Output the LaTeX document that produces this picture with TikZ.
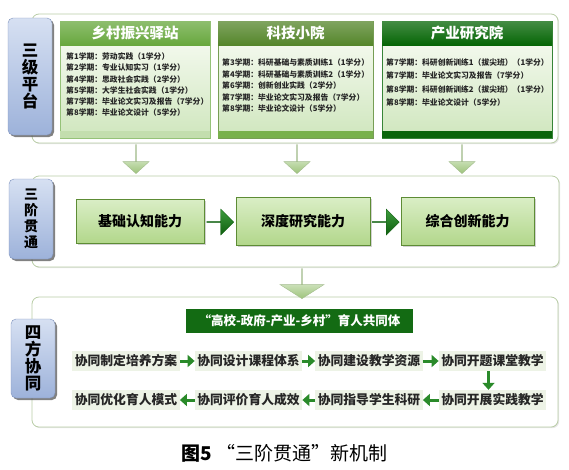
\documentclass[tikz,border=0pt]{standalone}
\usepackage{fontspec}
\setmainfont{Noto Sans CJK SC}
\usepackage{tikz}
\usetikzlibrary{shapes.arrows, positioning, arrows.meta, calc, shadows}

\definecolor{secLine}{HTML}{B9CDA6}
\definecolor{tagTop}{HTML}{D6E0F2}
\definecolor{tagBot}{HTML}{9DB2DA}
\definecolor{tagLine}{HTML}{7F93BD}
\definecolor{hVil}{HTML}{68A83E}
\definecolor{hSci}{HTML}{55862B}
\definecolor{hInd}{HTML}{066606}
\definecolor{sVil}{HTML}{C3DEAE}
\definecolor{sSci}{HTML}{78B14C}
\definecolor{sInd}{HTML}{0A650A}
\definecolor{panelTop}{HTML}{FBFDF8}
\definecolor{panelBot}{HTML}{CFE6BD}
\definecolor{abTop}{HTML}{DAEEC6}
\definecolor{abBot}{HTML}{B2D78B}
\definecolor{abLine}{HTML}{5D8C35}
\definecolor{pushTop}{HTML}{3E9C3E}
\definecolor{pushBot}{HTML}{0F5F0F}
\definecolor{arrLine}{HTML}{A3BC8E}
\definecolor{arrBot}{HTML}{9DC47A}
\definecolor{itemBg}{HTML}{EDF3E6}
\definecolor{flowGreen}{HTML}{2A8A2A}
\definecolor{barGreen}{HTML}{136B13}

\begin{document}
\begin{tikzpicture}[
    x=1pt, y=-1pt,
    section/.style={draw=secLine, line width=0.8pt, rounded corners=7pt, fill=white, inner sep=0pt,
        drop shadow={shadow xshift=1.2pt, shadow yshift=-1.2pt, opacity=0.2}},
    tag/.style={draw=tagLine, rounded corners=5pt, top color=tagTop, bottom color=tagBot, align=center,
        minimum width=44pt, inner sep=0pt,
        drop shadow={shadow xshift=2pt, shadow yshift=-2pt, fill=black!70, opacity=0.7}},
    panel/.style={draw=#1, top color=panelTop, bottom color=panelBot, inner sep=0pt, minimum height=117pt},
    head/.style={top color=#1!75!white, bottom color=#1, text=white, anchor=north, inner sep=0pt,
        minimum height=24pt, font=\fontsize{14.5}{16}\selectfont\bfseries},
    strip/.style={fill=#1, inner sep=0pt, minimum height=7pt, anchor=south},
    term/.style={anchor=north west, align=left, inner sep=0pt, text=black!85,
        font=\fontsize{7.8}{#1}\selectfont\bfseries},
    ability/.style={draw=abLine, top color=abTop, bottom color=abBot, inner sep=0pt,
        font=\fontsize{14}{16}\selectfont\bfseries,
        drop shadow={shadow xshift=1.5pt, shadow yshift=-1.5pt, opacity=0.35}},
    push/.style={single arrow, draw=pushBot, top color=pushTop, bottom color=pushBot, inner sep=0pt,
        minimum width=26pt, minimum height=27pt, single arrow head extend=6pt, single arrow tip angle=90},
    down/.style={single arrow, shape border rotate=270, draw=arrLine, top color=white, bottom color=arrBot,
        inner sep=0pt, anchor=tail, minimum width=26pt, minimum height=29pt,
        single arrow head extend=6.5pt, single arrow tip angle=95},
    item/.style={fill=itemBg, text=black!85, inner xsep=2.5pt, inner ysep=0pt, minimum height=20pt,
        font=\fontsize{12.8}{14}\selectfont\bfseries},
    flow/.style={draw=flowGreen, line width=3pt, -{Triangle[length=7pt, width=12pt]}}
]
    \useasboundingbox (0,0) rectangle (569,469);

    % Section frames
    \node[section, minimum width=526pt, minimum height=129pt] (secA) at (295,78.5) {};
    \node[section, minimum width=527pt, minimum height=91pt] (secB) at (295.5,221.5) {};
    \node[section, minimum width=526pt, minimum height=130pt] (secC) at (295,362) {};

    % Side tags
    \node[tag, minimum height=117pt, font=\fontsize{16.5}{17}\selectfont\bfseries] (tagA) at (30,76.5) {三\\级\\平\\台};
    \node[tag, minimum height=80pt, font=\fontsize{14}{16}\selectfont\bfseries] (tagB) at (31,219) {三\\阶\\贯\\通};
    \node[tag, minimum height=79pt, font=\fontsize{16.5}{17}\selectfont\bfseries] (tagC) at (33,358.5) {四\\方\\协\\同};

    % Platforms
    \node[panel=hVil!70, minimum width=150pt] (pVil) at (135,79.5) {};
    \node[panel=hSci!80, minimum width=155pt] (pSci) at (295.5,79.5) {};
    \node[panel=hInd!80, minimum width=170pt] (pInd) at (467,79.5) {};

    \node[head=hVil, minimum width=150pt] (hdVil) at (pVil.north) {乡村振兴驿站};
    \node[head=hSci, minimum width=155pt] (hdSci) at (pSci.north) {科技小院};
    \node[head=hInd, minimum width=170pt] (hdInd) at (pInd.north) {产业研究院};

    \node[strip=sVil, minimum width=150pt] (sdVil) at (pVil.south) {};
    \node[strip=sSci, minimum width=155pt] (sdSci) at (pSci.south) {};
    \node[strip=sInd, minimum width=170pt] (sdInd) at (pInd.south) {};

    \node[term=11.3] (tVil) at (66,52.5) {第1学期：劳动实践（1学分）\\第2学期：专业认知实习（1学分）\\第4学期：思政社会实践（2学分）\\第5学期：大学生社会实践（1学分）\\第7学期：毕业论文实习及报告（7学分）\\第8学期：毕业论文设计（5学分）};
    \node[term=11.5] (tSci) at (222,59) {第3学期：科研基础与素质训练1（1学分）\\第4学期：科研基础与素质训练2（1学分）\\第6学期：创新创业实践（2学分）\\第7学期：毕业论文实习及报告（7学分）\\第8学期：毕业论文设计（5学分）};
    \node[term=13.3] (tInd) at (386,58.5) {第7学期：科研创新训练1（拔尖班）（1学分）\\第7学期：毕业论文实习及报告（7学分）\\第8学期：科研创新训练2（拔尖班）（1学分）\\第8学期：毕业论文设计（5学分）};

    % Down arrows
    \node[down] (dVil) at ($(pVil.south |- secA.south)+(1,1)$) {};
    \node[down] (dSci) at ($(pSci.south |- secA.south)+(1.5,1)$) {};
    \node[down] (dInd) at ($(pInd.south |- secA.south)+(-5,1)$) {};

    % Three stages
    \node[ability, minimum width=128pt, minimum height=44pt] (ab1) at (140,221) {基础认知能力};
    \node[ability, minimum width=134pt, minimum height=48pt] (ab2) at (303,221) {深度研究能力};
    \node[ability, minimum width=133pt, minimum height=48pt] (ab3) at (467.5,221) {综合创新能力};

    \node[push] (ps1) at ($(ab1.east)!0.5!(ab2.west)+(0,1)$) {};
    \node[push] (ps2) at ($(ab2.east)!0.5!(ab3.west)+(0,1)$) {};

    \node[down, minimum width=44pt, minimum height=30pt, single arrow head extend=12pt,
        single arrow tip angle=115] (dMid) at ($(ab2.south |- secB.south)+(-1,1)$) {};

    % Four-party collaboration
    \node[fill=barGreen, text=white, inner sep=0pt, minimum width=227pt, minimum height=24pt,
        font=\fontsize{12.5}{14}\selectfont\bfseries] (bar) at (299.5,321) {“高校-政府-产业-乡村”育人共同体};

    \node[item] (it1) at (126,361) {协同制定培养方案};
    \node[item] (it2) at (248.5,361) {协同设计课程体系};
    \node[item] (it3) at (369,361) {协同建设教学资源};
    \node[item] (it4) at (492.5,361) {协同开题课堂教学};
    \node[item] (it5) at (492.5,400) {协同开展实践教学};
    \node[item] (it6) at (369,400) {协同指导学生科研};
    \node[item] (it7) at (248.5,400) {协同评价育人成效};
    \node[item] (it8) at (126,400) {协同优化育人模式};

    \draw[flow] (it1) -- (it2);
    \draw[flow] (it2) -- (it3);
    \draw[flow] (it3) -- (it4);
    \draw[flow] ([xshift=-4pt]it4.south) -- ([xshift=-4pt]it5.north);
    \draw[flow] (it5) -- (it6);
    \draw[flow] (it6) -- (it7);
    \draw[flow] (it7) -- (it8);

    % Caption
    \node[font=\fontsize{19}{21}\selectfont] (cap) at (284.5,453) {{\bfseries 图5} “三阶贯通”新机制};
\end{tikzpicture}
\end{document}
